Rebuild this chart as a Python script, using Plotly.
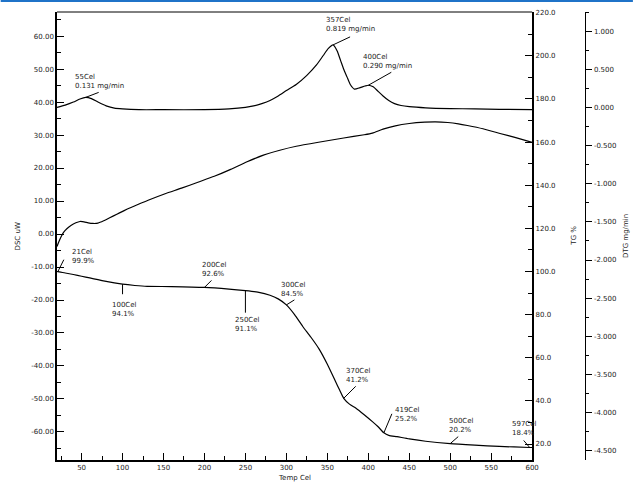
import plotly.graph_objects as go

# ---------------- data ----------------
dsc_temp = [20, 22, 25, 28, 32, 37, 43, 48, 53, 58, 64, 70, 77, 85, 93, 102, 111, 132, 152, 172, 192,
            212, 232, 252, 272, 292, 312, 341, 370, 395, 405, 418, 433, 450, 469, 482, 497, 510, 521,
            540, 562, 580, 600]
dsc_uw = [-3.8, -2.5, -0.8, 0.5, 1.6, 2.6, 3.4, 3.8, 3.7, 3.4, 3.2, 3.3, 4.0, 5.0, 6.0, 7.1, 8.1, 10.3,
          12.2, 13.9, 15.7, 17.5, 19.6, 21.9, 23.9, 25.4, 26.6, 27.9, 29.1, 30.1, 30.6, 31.8, 32.8, 33.5,
          33.9, 34.0, 33.8, 33.4, 32.9, 31.9, 30.4, 29.2, 27.8]

tg_temp = [20, 21, 30, 40, 50, 60, 70, 80, 90, 100, 115, 130, 160, 200, 230, 250, 265, 280, 290, 300,
           310, 320, 330, 340, 350, 360, 365, 370, 377, 385, 395, 405, 412, 419, 425, 435, 450, 470,
           500, 530, 560, 597, 600]
tg_pct = [100.0, 99.9, 99.3, 98.6, 97.8, 97.0, 96.2, 95.4, 94.7, 94.1, 93.5, 93.1, 93.0, 92.6, 91.8,
          91.1, 90.4, 89.0, 87.3, 84.5, 80.0, 74.5, 69.5, 64.0, 57.0, 49.0, 45.0, 41.2, 38.5, 36.6, 33.6,
          30.4, 28.0, 25.2, 24.0, 23.4, 22.4, 21.3, 20.2, 19.5, 18.9, 18.4, 18.4]

dtg_temp = [20, 30, 40, 48, 55, 62, 70, 80, 90, 100, 120, 150, 200, 230, 250, 260, 270, 280, 290, 300,
            312, 325, 337, 345, 351, 357, 362, 366, 370, 374, 378, 383, 390, 396, 400, 406, 412, 418,
            425, 432, 440, 450, 470, 500, 530, 560, 600]
dtg_mg = [0.0, 0.03, 0.07, 0.11, 0.131, 0.115, 0.07, 0.02, -0.01, -0.02, -0.03, -0.03, -0.03, -0.02, 0.0,
          0.02, 0.05, 0.09, 0.15, 0.22, 0.30, 0.42, 0.56, 0.68, 0.77, 0.819, 0.74, 0.62, 0.50, 0.40, 0.30,
          0.24, 0.26, 0.28, 0.29, 0.27, 0.21, 0.15, 0.09, 0.05, 0.025, 0.01, -0.005, -0.015, -0.02,
          -0.025, -0.03]

dtg_marks_t = [55, 357, 400]
dtg_marks_v = [0.131, 0.819, 0.290]
tg_marks_t = [21, 100, 200, 250, 300, 370, 419, 500, 597]
tg_marks_v = [99.9, 94.1, 92.6, 91.1, 84.5, 41.2, 25.2, 20.2, 18.4]

x_ticks = list(range(50, 601, 50))
dsc_ticks = list(range(-60, 61, 10))
tg_ticks = list(range(20, 221, 20))
dtg_ticks = [round(-4.5 + 0.5 * i, 1) for i in range(12)]

# ---------------- figure ----------------
W, H = 640, 483
ML, MR, MT, MB = 57, 8, 12, 23
PW = W - ML - MR
x_right = (538 - ML) / PW
dtg_pos = (592 - ML) / PW

fig = go.Figure()
line = dict(color="black", width=1.2, shape="spline", smoothing=0.6)
fig.add_trace(go.Scatter(x=dsc_temp, y=dsc_uw, mode="lines", line=line, yaxis="y", showlegend=False,
                         hoverinfo="skip"))
fig.add_trace(go.Scatter(x=tg_temp, y=tg_pct, mode="lines", line=line, yaxis="y2", showlegend=False,
                         hoverinfo="skip"))
fig.add_trace(go.Scatter(x=dtg_temp, y=dtg_mg, mode="lines", line=line, yaxis="y3", showlegend=False,
                         hoverinfo="skip"))

tickfont = dict(family="DejaVu Sans", size=7, color="#222")
annfont = dict(family="DejaVu Sans", size=7, color="#222")

fig.update_layout(
    width=W, height=H,
    margin=dict(l=ML, r=MR, t=MT, b=MB),
    paper_bgcolor="white", plot_bgcolor="white",
    xaxis=dict(domain=[0, x_right], range=[20, 600], tickvals=x_ticks, ticktext=[str(v) for v in x_ticks],
               ticks="inside", ticklen=7, tickcolor="black", tickwidth=1,
               minor=dict(dtick=25, tick0=0, ticks="inside", ticklen=4, tickcolor="black"),
               showline=True, linecolor="black", linewidth=2, showgrid=False, zeroline=False,
               tickfont=tickfont, anchor="y"),
    yaxis=dict(range=[-68.5, 67.3], tickvals=dsc_ticks, ticktext=[f"{v:.2f}" for v in dsc_ticks],
               ticks="inside", ticklen=7, tickcolor="black",
               minor=dict(dtick=5, tick0=0, ticks="inside", ticklen=4, tickcolor="black"),
               showline=True, linecolor="black", linewidth=1.5, showgrid=False, zeroline=False,
               tickfont=tickfont, anchor="x"),
    yaxis2=dict(range=[12.6, 220.3], overlaying="y", side="right", anchor="x",
                tickvals=tg_ticks, ticktext=[f"{v:.1f}" for v in tg_ticks],
                ticks="inside", ticklen=7, tickcolor="black",
                minor=dict(dtick=10, tick0=0, ticks="inside", ticklen=4, tickcolor="black"),
                showline=True, linecolor="black", linewidth=2, showgrid=False, zeroline=False,
                tickfont=tickfont),
    yaxis3=dict(range=[-4.62, 1.25], overlaying="y", side="right", anchor="free", position=dtg_pos,
                tickvals=dtg_ticks, ticktext=[f"{v:.3f}" for v in dtg_ticks],
                ticks="outside", ticklen=6, tickcolor="black",
                minor=dict(dtick=0.25, tick0=0, ticks="outside", ticklen=3, tickcolor="black"),
                showline=True, linecolor="black", linewidth=1, showgrid=False, zeroline=False,
                tickfont=tickfont),
    hovermode=False,
)

# frame top line and blue page border
fig.add_shape(type="line", xref="x domain", yref="y domain", x0=0, x1=1, y0=1, y1=1,
              line=dict(color="black", width=1))
fig.add_shape(type="line", xref="paper", yref="paper", x0=-ML / PW, x1=(W - ML) / PW,
              y0=1 + (MT - 1) / (H - MT - MB), y1=1 + (MT - 1) / (H - MT - MB),
              line=dict(color="#1f73c8", width=2))

# axis titles
titlefont = dict(family="DejaVu Sans", size=7, color="#222")
mid = 0.5
for txt, px in [("DSC uW", 18), ("TG %", 580), ("DTG mg/min", 633)]:
    fig.add_annotation(text=txt, xref="paper", yref="paper", x=(px - ML) / PW, y=mid,
                       xanchor="center", yanchor="middle",
                       textangle=-90, showarrow=False, font=titlefont)
fig.add_annotation(text="Temp Cel", xref="x domain", yref="paper", x=0.5, y=0, yshift=-MB + 5,
                   xanchor="center", yanchor="middle", showarrow=False, font=titlefont)

# point labels with leader lines
# (leader dx, dy in px: + right / + up; text xshift, yshift; yanchor)
dtg_style = [(13, 5, -13, 5, "bottom"), (17, 8, -9, 10, "bottom"), (23, 13, -7, 13, "bottom")]
tg_style = [(6, 12, 12, 5, "bottom"), (0, -10, -13, -15, "top"), (7, 7, -4, 7, "bottom"),
            (0, -22, -12, -23, "top"), (8, 5, -7, 5, "bottom"), (12, 12, 0, 12, "bottom"),
            (8, 19, 9, 8, "bottom"), (8, 7, -3, 8, "bottom"), (-6, 7, -20, 8, "bottom")]


def mark(t, v, yref, second, style):
    dx, dy, xs, ys, ya = style
    fig.add_shape(type="line", xref="x", yref=yref, xsizemode="pixel", ysizemode="pixel",
                  xanchor=t, yanchor=v, x0=0, y0=0, x1=dx, y1=dy,
                  line=dict(color="black", width=1))
    fig.add_annotation(text=f"{t}Cel<br>{second}", x=t, y=v, xref="x", yref=yref,
                       xanchor="left", yanchor=ya, xshift=xs, yshift=ys, align="left",
                       showarrow=False, font=annfont)


for t, v, s in zip(dtg_marks_t, dtg_marks_v, dtg_style):
    mark(t, v, "y3", f"{v:.3f} mg/min", s)
for t, v, s in zip(tg_marks_t, tg_marks_v, tg_style):
    mark(t, v, "y2", f"{v:.1f}%", s)

fig.write_html("out.html", config={"displayModeBar": False},
               post_script="document.body.style.margin='0';")
